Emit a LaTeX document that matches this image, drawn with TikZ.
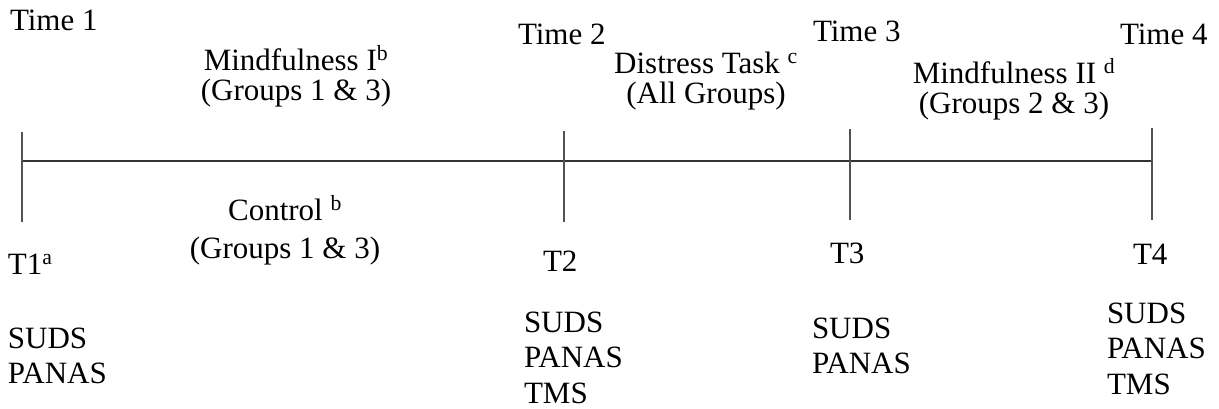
\documentclass[tikz,border=0pt]{standalone}
\usepackage{fontspec}
\setmainfont{Liberation Serif}
% centred two-line block whose baseline is the first line's
\newcommand{\cstack}[2]{\vtop{\halign{\hfil##\hfil\cr #1\cr #2\cr}}}
% left-aligned block of lines, baseline on the first line
\newcommand{\lstack}[1]{\vtop{\halign{##\hfil\cr #1\crcr}}}
\begin{document}
\begin{tikzpicture}[x=1pt,y=-1pt,
  lbl/.style={inner sep=0pt, outer sep=0pt, font=\fontsize{31}{30}\selectfont},
  lowlbl/.style={lbl, font=\fontsize{31}{35.5}\selectfont},
  ctrl/.style={lbl, font=\fontsize{31}{38}\selectfont},
  axisline/.style={draw=black!80, line width=1.3pt},
  tickline/.style={draw=black!68, line width=1.3pt}]
\useasboundingbox (0,0) rectangle (1219,408);

% time line and its tick marks
\coordinate (a0) at (22,161);
\coordinate (a1) at (1152,161);
\coordinate (t1top) at (22,132);   \coordinate (t1bot) at (22,222);
\coordinate (t2top) at (564,131);  \coordinate (t2bot) at (564,222);
\coordinate (t3top) at (850,129);  \coordinate (t3bot) at (850,220);
\coordinate (t4top) at (1152,128); \coordinate (t4bot) at (1152,220);
\draw[axisline] (a0) -- (a1);
\draw[tickline] (t1top) -- (t1bot);
\draw[tickline] (t2top) -- (t2bot);
\draw[tickline] (t3top) -- (t3bot);
\draw[tickline] (t4top) -- (t4bot);

% time points above the line
\node[lbl, anchor=base west] (time1) at (10,30) {Time 1};
\node[lbl, anchor=base west] (time2) at (518,44) {Time 2};
\node[lbl, anchor=base west] (time3) at (813,41) {Time 3};
\node[lbl, anchor=base west] (time4) at (1120,44) {Time 4};

% conditions between time points
\node[lbl, anchor=base] (mind1) at (296,70)
  {\cstack{Mindfulness I\textsuperscript{b}}{(Groups 1 \& 3)}};
\node[lbl, anchor=base] (distress) at (706,73)
  {\cstack{Distress Task \textsuperscript{c}}{(All Groups)}};
\node[lbl, anchor=base] (mind2) at (1014,83)
  {\cstack{Mindfulness II \textsuperscript{d}}{(Groups 2 \& 3)}};
\node[ctrl, anchor=base] (control) at (285,220)
  {\cstack{Control \textsuperscript{b}}{(Groups 1 \& 3)}};

% assessment labels below the line
\node[lbl, anchor=base west] (T1) at (8,274) {T1\textsuperscript{a}};
\node[lbl, anchor=base west] (T2) at (543,271) {T2};
\node[lbl, anchor=base west] (T3) at (830,263) {T3};
\node[lbl, anchor=base west] (T4) at (1133,264) {T4};

% measures taken at each assessment
\node[lowlbl, anchor=base west] (m1) at (8,348) {\lstack{SUDS\cr PANAS}};
\node[lowlbl, anchor=base west] (m2) at (524,332) {\lstack{SUDS\cr PANAS\cr TMS}};
\node[lowlbl, anchor=base west] (m3) at (812,338) {\lstack{SUDS\cr PANAS}};
\node[lowlbl, anchor=base west] (m4) at (1107,323) {\lstack{SUDS\cr PANAS\cr TMS}};
\end{tikzpicture}
\end{document}
